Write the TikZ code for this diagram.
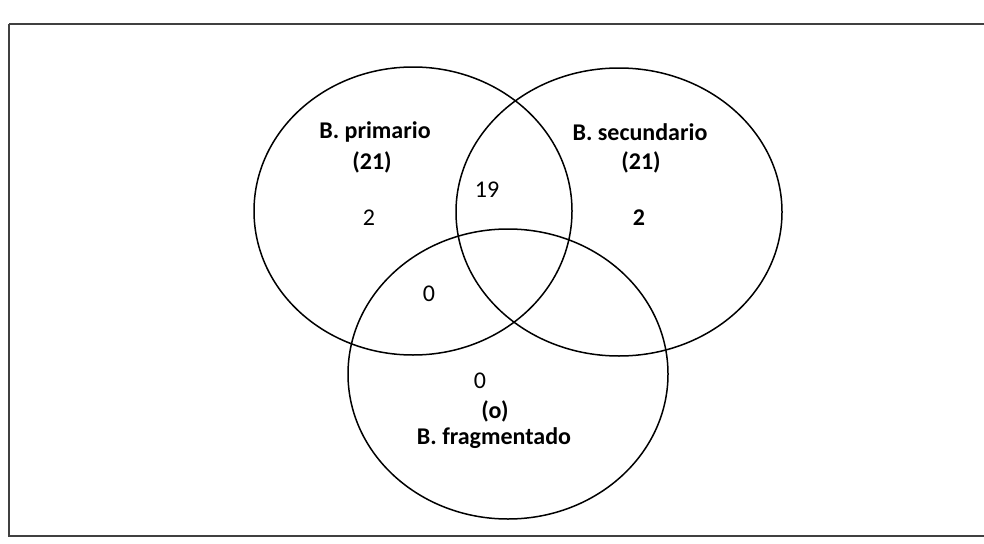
\documentclass[tikz,border=0pt]{standalone}
\usepackage{fontspec}
\setmainfont{Carlito}
\begin{document}
\begin{tikzpicture}[x=1pt,y=-1pt,
  setline/.style={draw=black,line width=1.5pt},
  frameline/.style={draw=black!75,line width=2.2pt},
  lab/.style={font=\fontsize{24}{30}\selectfont\bfseries,align=center,inner sep=0pt},
  num/.style={font=\fontsize{24}{30}\selectfont,inner sep=0pt}]
\useasboundingbox (0,0) rectangle (984,543);
\draw[frameline] (9,24) -- (990,24);
\draw[frameline] (9,24) -- (9,536) -- (990,536);
\draw[setline] (413,211) ellipse [x radius=159, y radius=144];
\draw[setline] (619,212) ellipse [x radius=163, y radius=144];
\draw[setline] (508,374) ellipse [x radius=160, y radius=145];
\node[lab] (pt) at (375,132) {B. primario};
\node[lab] (pn) at (372,162) {(21)};
\node[num] (p2) at (369,218) {2};
\node[num] (ps) at (487,190) {19};
\node[lab] (st) at (640,132) {B. secundario};
\node[lab] (sn) at (641,162) {(21)};
\node[lab] (s2) at (639,218) {2};
\node[num] (pf) at (429,294) {0};
\node[num] (f0) at (480,381) {0};
\node[lab] (fn) at (495,411) {(o)};
\node[lab] (ft) at (494,438) {B. fragmentado};
\end{tikzpicture}
\end{document}
